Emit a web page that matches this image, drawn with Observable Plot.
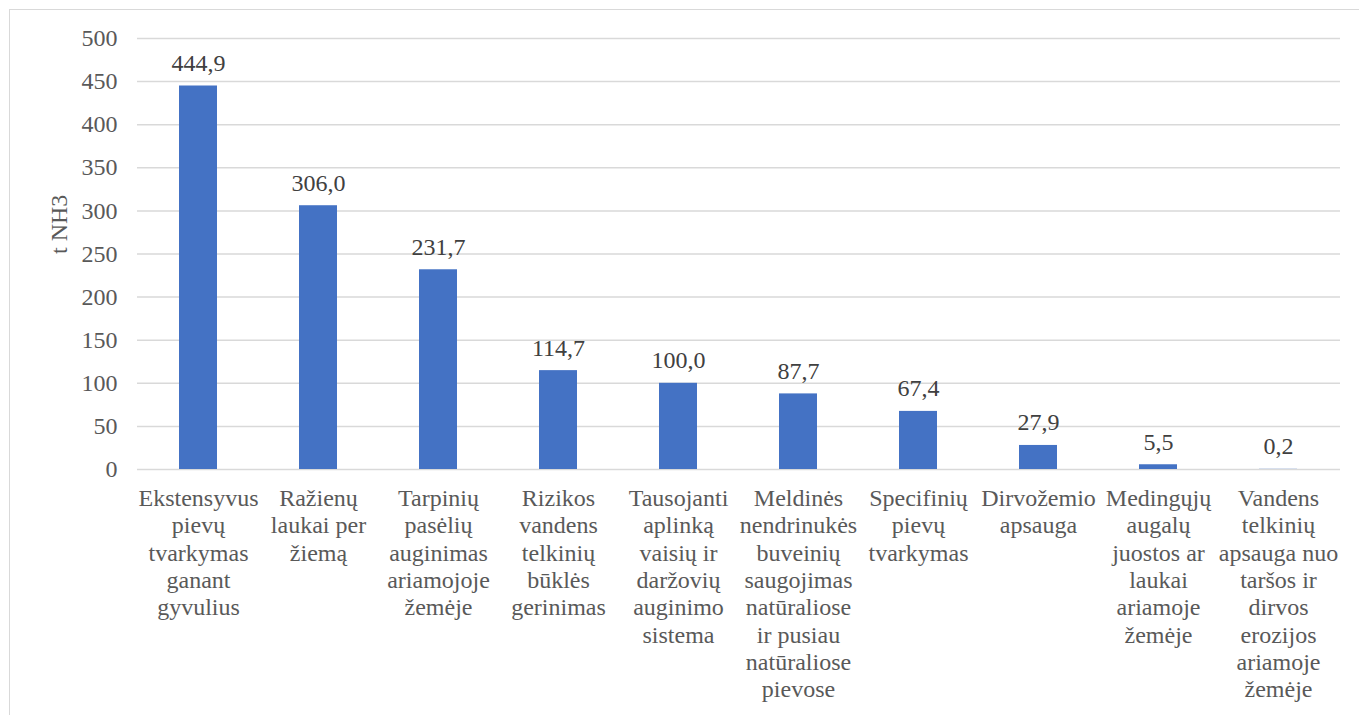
<!DOCTYPE html>
<html>
<head>
<meta charset="utf-8">
<script src="https://cdn.jsdelivr.net/npm/d3@7"></script>
<script src="https://cdn.jsdelivr.net/npm/@observablehq/plot@0.6"></script>
<style>
  html, body { margin: 0; padding: 0; background: #fff; }
  #wrap { position: relative; width: 1359px; height: 715px; overflow: hidden; }
  #frame { position: absolute; left: 9px; top: 9px; width: 1400px; height: 800px;
           border-left: 1px solid #d9d9d9; border-top: 1px solid #d9d9d9; box-sizing: border-box; }
  #chart { position: absolute; left: 0; top: 0; }
</style>
</head>
<body>
<div id="wrap"><div id="frame"></div><div id="chart"></div></div>
<script>
const categories = [
  "Ekstensyvus\npievų\ntvarkymas\nganant\ngyvulius",
  "Ražienų\nlaukai per\nžiemą",
  "Tarpinių\npasėlių\nauginimas\nariamojoje\nžemėje",
  "Rizikos\nvandens\ntelkinių\nbūklės\ngerinimas",
  "Tausojanti\naplinką\nvaisių ir\ndaržovių\nauginimo\nsistema",
  "Meldinės\nnendrinukės\nbuveinių\nsaugojimas\nnatūraliose\nir pusiau\nnatūraliose\npievose",
  "Specifinių\npievų\ntvarkymas",
  "Dirvožemio\napsauga",
  "Medingųjų\naugalų\njuostos ar\nlaukai\nariamoje\nžemėje",
  "Vandens\ntelkinių\napsauga nuo\ntaršos ir\ndirvos\nerozijos\nariamoje\nžemėje"
];
const values = [444.9, 306.0, 231.7, 114.7, 100.0, 87.7, 67.4, 27.9, 5.5, 0.2];
const yTicks = [0, 50, 100, 150, 200, 250, 300, 350, 400, 450, 500];
const yLabel = "t NH3";

const data = categories.map((c, i) => ({cat: c, value: values[i]}));
const fmt = v => v.toFixed(1).replace(".", ",");
const FF = "Liberation Serif";
const FS = 24;

const chart = Plot.plot({
  width: 1359,
  height: 715,
  marginLeft: 137,
  marginRight: 19,
  marginTop: 38,
  marginBottom: 246,
  style: {fontFamily: FF, fontSize: FS + "px", color: "#595959", background: "transparent"},
  x: {domain: categories, paddingInner: 0.68, paddingOuter: 0.34, label: null},
  y: {domain: [0, 500], label: null},
  marks: [
    Plot.gridY(yTicks, {stroke: "#d9d9d9", strokeOpacity: 1, strokeWidth: 1.5}),
    Plot.barY(data, {x: "cat", y: "value", fill: "#4472C4"}),
    Plot.text(data, {x: "cat", y: "value", text: d => fmt(d.value), lineAnchor: "bottom", dy: -15, fill: "#404040", fontSize: FS, fontFamily: FF}),
    Plot.axisY(yTicks, {tickSize: 0, tickPadding: 20, fill: "#595959", fontSize: FS, fontFamily: FF, label: null}),
    Plot.axisX({tickSize: 0, tickPadding: 17, lineAnchor: "top", lineHeight: 1.14, fill: "#595959", fontSize: FS, fontFamily: FF, label: null}),
    Plot.text([yLabel], {frameAnchor: "left", rotate: -90, dx: -78, fill: "#595959", fontSize: FS, fontFamily: FF})
  ]
});
document.getElementById("chart").appendChild(chart);
</script>
</body>
</html>
